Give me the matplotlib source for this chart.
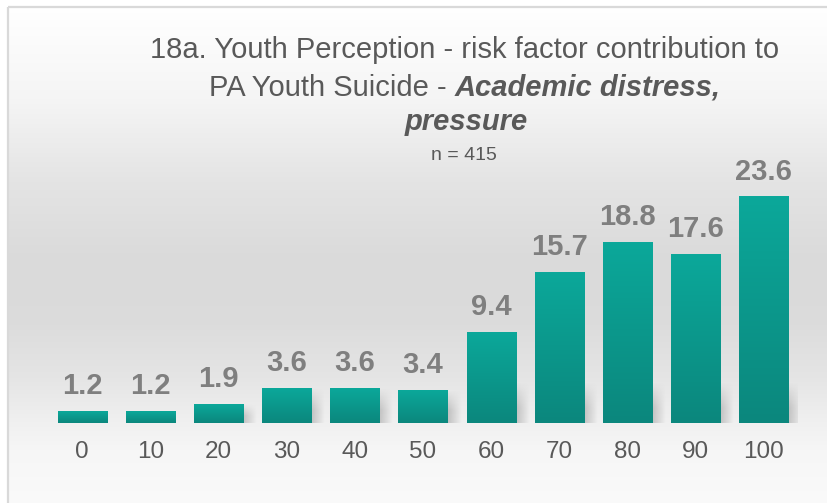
import numpy as np
import matplotlib
matplotlib.use("Agg")
from matplotlib import pyplot as plt
from matplotlib.colors import LinearSegmentedColormap
from matplotlib.patches import Rectangle

categories = ["0", "10", "20", "30", "40", "50", "60", "70", "80", "90", "100"]
values = [1.2, 1.2, 1.9, 3.6, 3.6, 3.4, 9.4, 15.7, 18.8, 17.6, 23.6]

title_plain1 = "18a. Youth Perception - risk factor contribution to"
title_plain2 = "PA Youth Suicide - "
title_bold2 = "Academic distress,"
title_bold3 = "pressure"
subtitle = "n = 415"

W, H = 827, 503
plt.rcParams['font.family'] = ['Liberation Sans', 'DejaVu Sans']
fig = plt.figure(figsize=(W / 100, H / 100), dpi=100)

# background gradient (white -> grey -> white)
bg = fig.add_axes([0, 0, 1, 1])
rows = np.arange(H)
stops_y = [0, 20, 100, 180, 260, 320, 380, 420, 450, 503]
stops_v = [0.998, 0.995, 0.96, 0.895, 0.855, 0.86, 0.90, 0.94, 0.965, 0.98]
col = np.interp(rows, stops_y, stops_v)
img = np.repeat(col[:, None], W, axis=1)
img = np.dstack([img, img, img])
img[:7, :, :] = 1.0
img[:, :8, :] = 1.0
bg.imshow(img, extent=(0, W, H, 0), aspect='auto')
bg.set_xlim(0, W)
bg.set_ylim(H, 0)
bg.axis('off')
bg.add_patch(Rectangle((8, 7), W + 20, H + 20, fill=False, edgecolor='#d9d9d9', lw=1.6))

# bars
ax = fig.add_axes([48 / W, (H - 423) / H, 750 / W, (423 - 150) / H])
ax.patch.set_alpha(0)
x = np.arange(len(values))
bw = 0.72
ax.set_xlim(-0.5, len(values) - 0.5)
ymax = (423 - 150) / (226 / 23.6)
ax.set_ylim(0, ymax)

cmap = LinearSegmentedColormap.from_list('teal', ['#0b877d', '#0ca89a'])
grad = np.linspace(0, 1, 100)[::-1, None]

# soft shadows on the right of the bars
sh = np.zeros((40, 20, 4))
hx = np.linspace(1, 0, 20)[None, :]
vy = np.clip(np.linspace(0, 1.6, 40)[:, None], 0, 1)
sh[..., :3] = 0.55
sh[..., 3] = 0.45 * hx * vy

for xi, v in zip(x, values):
    h = min(v, 4.2)
    if v > 1.5:
        ax.imshow(sh, extent=(xi + bw / 2, xi + bw / 2 + 0.2, 0, h), aspect='auto',
                  interpolation='bilinear', zorder=1)
    ax.imshow(grad, extent=(xi - bw / 2, xi + bw / 2, 0, v), aspect='auto',
              cmap=cmap, vmin=0, vmax=1, zorder=2)
    ax.text(xi, v + 1.2, f"{v:.1f}", ha='center', va='bottom', fontsize=21,
            fontweight='bold', color='#7f7f7f', zorder=3)

ax.set_xticks(x)
ax.set_xticklabels(categories, fontsize=17.5, color='#595959')
ax.tick_params(axis='x', length=0, pad=13)
ax.set_yticks([])
for s in ax.spines.values():
    s.set_visible(False)

# title
tc = '#595959'
fs = 21
fig.text(465 / W, 1 - 50 / H, title_plain1, ha='center', va='center', fontsize=fs, color=tc)
r = fig.canvas.get_renderer()
t1 = fig.text(0, 1 - 88 / H, title_plain2, ha='left', va='center', fontsize=fs, color=tc)
t2 = fig.text(0, 1 - 88 / H, title_bold2, ha='left', va='center', fontsize=fs, color=tc,
              fontweight='bold', fontstyle='italic')
w1 = t1.get_window_extent(r).width
w2 = t2.get_window_extent(r).width
start = 465 - (w1 + w2) / 2
t1.set_x(start / W)
t2.set_x((start + w1) / W)
fig.text(466 / W, 1 - 122 / H, title_bold3, ha='center', va='center', fontsize=fs, color=tc,
         fontweight='bold', fontstyle='italic')
fig.text(464 / W, 1 - 155 / H, subtitle, ha='center', va='center', fontsize=14, color=tc)

fig.savefig("out.png", dpi=100)
